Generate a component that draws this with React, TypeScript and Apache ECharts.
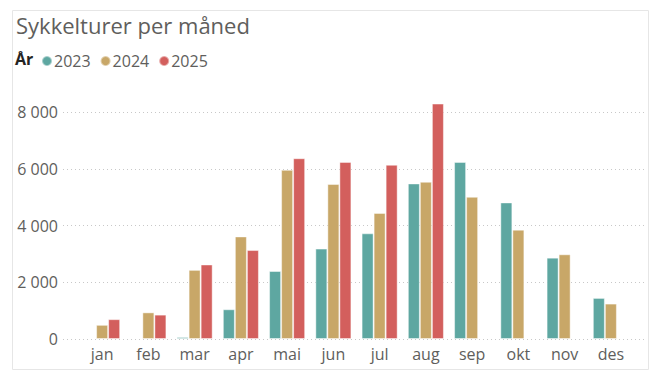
import React, { useEffect, useRef } from "react";
import * as echarts from "echarts";

const months = ["jan", "feb", "mar", "apr", "mai", "jun", "jul", "aug", "sep", "okt", "nov", "des"];
const years = ["2023", "2024", "2025"];
const v2023 = [null, null, 70, 1050, 2400, 3190, 3730, 5490, 6250, 4820, 2870, 1450];
const v2024 = [500, 940, 2440, 3620, 5970, 5470, 4450, 5550, 5020, 3860, 2990, 1250];
const v2025 = [700, 860, 2630, 3140, 6380, 6250, 6150, 8310, null, null, null, null];
const yTicks = [0, 2000, 4000, 6000, 8000];
const colors = ["#5EA7A1", "#C8A768", "#D35F5D"];

const FONT = "'Open Sans', 'Noto Sans', sans-serif";

export default function App() {
  const ref = useRef<HTMLDivElement>(null);
  useEffect(() => {
    if (!ref.current) return;
    const chart = echarts.init(ref.current, null, { renderer: "svg" });
    const seriesData = [v2023, v2024, v2025];
    const fmt = (v: number) => String(v).replace(/\B(?=(\d{3})+(?!\d))/g, " ");
    chart.setOption({
      animation: false,
      backgroundColor: "#ffffff",
      title: {
        text: "Sykkelturer per måned",
        left: 11,
        top: 9,
        textStyle: { fontFamily: FONT, fontSize: 22, fontWeight: "normal", color: "#605E5C" },
      },
      legend: {
        data: years,
        left: 41,
        top: 53,
        padding: 0,
        icon: "circle",
        itemWidth: 10,
        itemHeight: 10,
        itemGap: 9,
        textStyle: { fontFamily: FONT, fontSize: 16, color: "#605E5C", padding: [0, 0, 0, -3] },
      },
      graphic: [
        {
          type: "rect",
          shape: { x: 12.5, y: 10.5, width: 636, height: 359 },
          style: { fill: "none", stroke: "#E6E6E6", lineWidth: 1 },
          silent: true,
        },
        {
          type: "text",
          left: 15,
          top: 51,
          style: { text: "År", fontFamily: FONT, fontSize: 16, fontWeight: "bold", fill: "#252423" },
        },
      ],
      grid: [
        { left: 79, right: 23, top: 101, bottom: 37 },
        { left: 63, right: 12, top: 101, bottom: 37 },
      ],
      xAxis: [
        {
          type: "category",
          gridIndex: 0,
          data: months,
          axisLine: { show: false },
          axisTick: { show: false },
          axisLabel: { fontFamily: FONT, fontSize: 16, color: "#605E5C", margin: 7 },
        },
        { type: "value", gridIndex: 1, min: 0, max: 1, show: false },
      ],
      yAxis: [
        { type: "value", gridIndex: 0, min: 0, max: 8400, interval: 2000, show: false, splitLine: { show: false } },
        {
          type: "value",
          gridIndex: 1,
          min: 0,
          max: 8400,
          interval: 2000,
          axisLine: { show: false },
          axisTick: { show: false },
          axisLabel: {
            fontFamily: FONT,
            fontSize: 16,
            color: "#605E5C",
            margin: 5,
            showMaxLabel: false,
            formatter: (v: number) => (yTicks.includes(v) ? fmt(v) : ""),
          },
          splitLine: {
            show: true,
            showMaxLine: false,
            lineStyle: { type: [1, 3], color: "#C8C8C8", width: 1 },
          },
        },
      ],
      series: [
        ...years.map((y, i) => ({
          name: y,
          type: "bar",
          xAxisIndex: 0,
          yAxisIndex: 0,
          data: seriesData[i],
          barGap: "0%",
          barCategoryGap: "22%",
          itemStyle: { color: colors[i], borderColor: "rgba(255,255,255,0.45)", borderWidth: 1 },
        })),
        { type: "line", xAxisIndex: 1, yAxisIndex: 1, data: [], silent: true },
      ],
    });
    return () => chart.dispose();
  }, []);
  return <div ref={ref} style={{ position: "fixed", left: 0, top: 0, width: 657, height: 376 }} />;
}
